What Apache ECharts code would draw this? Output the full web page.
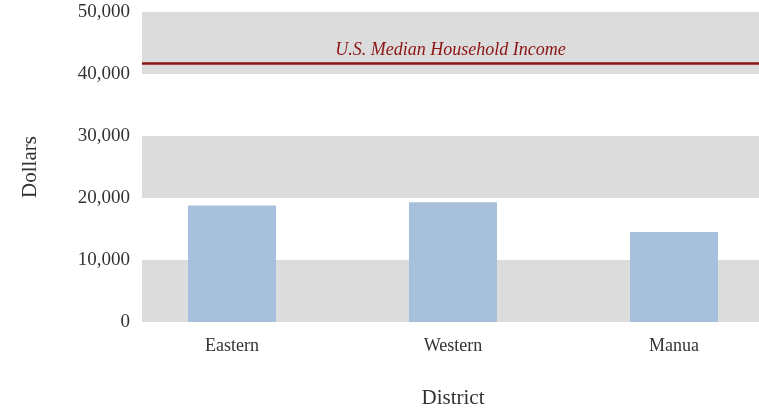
<!DOCTYPE html>
<html>
<head>
<meta charset="utf-8">
<script src="https://cdn.jsdelivr.net/npm/echarts@6/dist/echarts.min.js"></script>
<style>
html,body{margin:0;padding:0;background:#fff;}
#chart{width:759px;height:409px;}
</style>
</head>
<body>
<div id="chart"></div>
<script>
var myChart = echarts.init(document.getElementById('chart'));

// data
var districts = ['Eastern', 'Western', 'Manua'];
var incomes = [18800, 19300, 14500];
var medianIncome = 41800;
var medianLabel = 'U.S. Median Household Income';

var font = '"Liberation Serif", "DejaVu Serif", serif';
var textColor = '#333333';

var option = {
    animation: false,
    grid: [
        // background bands + y labels
        {left: 142, right: 0, top: 12, bottom: 87, outerBoundsMode: 'none', containLabel: false},
        // bars (categories are spaced wider than the banded area)
        {left: 121.5, right: -25.5, top: 12, bottom: 87, outerBoundsMode: 'none', containLabel: false}
    ],
    xAxis: [
        {gridIndex: 0, type: 'value', min: 0, max: 1, show: false},
        {
            gridIndex: 1,
            type: 'category',
            data: districts,
            axisLine: {show: false},
            axisTick: {show: false},
            axisLabel: {fontFamily: font, fontSize: 18, color: textColor, margin: 15},
            name: 'District',
            nameLocation: 'middle',
            nameGap: 66,
            nameTextStyle: {fontFamily: font, fontSize: 21, color: textColor}
        }
    ],
    yAxis: [
        {
            gridIndex: 0,
            type: 'value',
            min: 0,
            max: 50000,
            interval: 10000,
            axisLine: {show: false},
            axisTick: {show: false},
            splitLine: {show: false},
            splitArea: {show: true, areaStyle: {color: ['#dcdcdc', '#ffffff']}},
            axisLabel: {
                fontFamily: font, fontSize: 19, color: textColor, margin: 12,
                padding: [9, 0, 0, 0],
                formatter: function (v) { return v.toLocaleString('en-US'); }
            },
            name: 'Dollars',
            nameLocation: 'middle',
            nameGap: 101,
            nameTextStyle: {fontFamily: font, fontSize: 21, color: textColor}
        },
        {gridIndex: 1, type: 'value', min: 0, max: 50000, show: false}
    ],
    series: [
        {
            type: 'line',
            xAxisIndex: 0,
            yAxisIndex: 0,
            data: [],
            markLine: {
                silent: true,
                symbol: 'none',
                lineStyle: {color: '#8b1414', width: 2.5, type: 'solid'},
                label: {
                    show: true,
                    position: 'insideMiddleTop',
                    formatter: medianLabel,
                    fontFamily: font,
                    fontStyle: 'italic',
                    fontSize: 18,
                    color: '#8b1414',
                    distance: 4
                },
                data: [{yAxis: medianIncome}]
            }
        },
        {
            type: 'bar',
            xAxisIndex: 1,
            yAxisIndex: 1,
            barWidth: 88,
            itemStyle: {color: '#a7c0db'},
            data: incomes
        }
    ]
};
myChart.setOption(option);
</script>
</body>
</html>
